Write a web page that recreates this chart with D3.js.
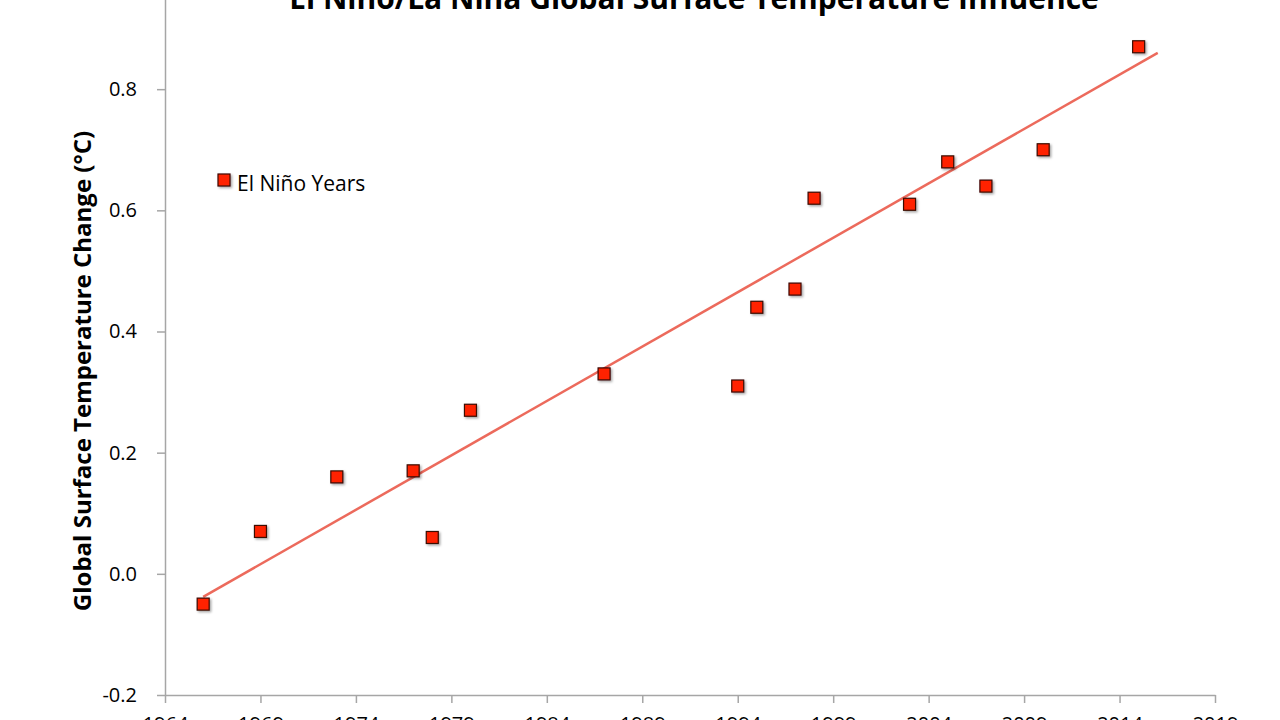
<!DOCTYPE html>
<html>
<head>
<meta charset="utf-8">
<title>El Niño Years</title>
<script src="https://cdn.jsdelivr.net/npm/d3@7"></script>
<style>
* { margin: 0; padding: 0; }
body { background: #fff; width: 1280px; height: 720px; overflow: hidden; }
svg text { font-family: "Open Sans", sans-serif; }
.axis path, .axis line { stroke: #a6a6a6; stroke-width: 1.5px; }
.axis text { font-size: 20px; fill: #000; }
</style>
</head>
<body>
<svg width="1280" height="720" id="chart"></svg>
<script>
// El Nino years and their global surface temperature change (deg C)
var years  = [1966, 1969, 1973, 1977, 1978, 1980, 1987, 1994, 1995, 1997, 1998, 2003, 2005, 2007, 2010, 2015];
var values = [-0.05, 0.07, 0.16, 0.17, 0.06, 0.27, 0.33, 0.31, 0.44, 0.47, 0.62, 0.61, 0.68, 0.64, 0.70, 0.87];

// linear trendline end points
var trendYears  = [1966, 2016];
var trendValues = [-0.038, 0.86];

var xTicks = [1964, 1969, 1974, 1979, 1984, 1989, 1994, 1999, 2004, 2009, 2014, 2019];
var yTicks = [-0.2, 0.0, 0.2, 0.4, 0.6, 0.8, 1.0];

var svg = d3.select("#chart");

var x = d3.scaleLinear().domain([1964, 2019]).range([165, 1215]);
var y = d3.scaleLinear().domain([-0.2, 1.0]).range([695, -32]);

var defs = svg.append("defs");
var f = defs.append("filter").attr("id", "shadow")
	.attr("x", "-50%").attr("y", "-50%").attr("width", "200%").attr("height", "200%");
f.append("feDropShadow").attr("dx", 1.5).attr("dy", 1.5).attr("stdDeviation", 1)
	.attr("flood-color", "#000").attr("flood-opacity", 0.35);

// title (top is cut off in the picture)
svg.append("text")
	.attr("x", 694).attr("y", 9)
	.attr("text-anchor", "middle")
	.style("font-size", "30px").style("font-weight", "bold")
	.text("El Niño/La Niña Global Surface Temperature Influence");

// axes
var fmtY = function(d) { return d3.format(".1f")(d).replace("−", "-"); };

svg.append("g").attr("class", "axis")
	.attr("transform", "translate(0," + y(-0.2) + ")")
	.call(d3.axisBottom(x).tickValues(xTicks).tickFormat(d3.format("d"))
		.tickSizeInner(8).tickSizeOuter(0).tickPadding(14));

svg.append("g").attr("class", "axis")
	.attr("transform", "translate(" + x(1964) + ",0)")
	.call(d3.axisLeft(y).tickValues(yTicks).tickFormat(fmtY)
		.tickSizeInner(8).tickSizeOuter(0).tickPadding(20));

// y axis title
svg.append("text")
	.attr("transform", "translate(91,371) rotate(-90)")
	.attr("text-anchor", "middle")
	.style("font-size", "24px").style("font-weight", "bold")
	.text("Global Surface Temperature Change (°C)");

// trendline
var line = d3.line()
	.x(function(d) { return x(d[0]); })
	.y(function(d) { return y(d[1]); });

svg.append("path")
	.datum(d3.zip(trendYears, trendValues))
	.attr("fill", "none")
	.attr("stroke", "#ec6a5c")
	.attr("stroke-width", 2.5)
	.attr("d", line);

// markers
var s = 12;
svg.append("g").selectAll("rect")
	.data(d3.zip(years, values))
	.enter().append("rect")
	.attr("x", function(d) { return x(d[0]) - s / 2; })
	.attr("y", function(d) { return y(d[1]) - s / 2; })
	.attr("width", s).attr("height", s)
	.attr("fill", "#ff2200")
	.attr("stroke", "#3a0a05")
	.attr("stroke-width", 1.2)
	.attr("filter", "url(#shadow)");

// legend
svg.append("rect")
	.attr("x", 224 - s / 2).attr("y", 180 - s / 2)
	.attr("width", s).attr("height", s)
	.attr("fill", "#ff2200").attr("stroke", "#3a0a05").attr("stroke-width", 1.2)
	.attr("filter", "url(#shadow)");
svg.append("text")
	.attr("x", 237).attr("y", 191)
	.style("font-size", "21px")
	.text("El Niño Years");
</script>
</body>
</html>
